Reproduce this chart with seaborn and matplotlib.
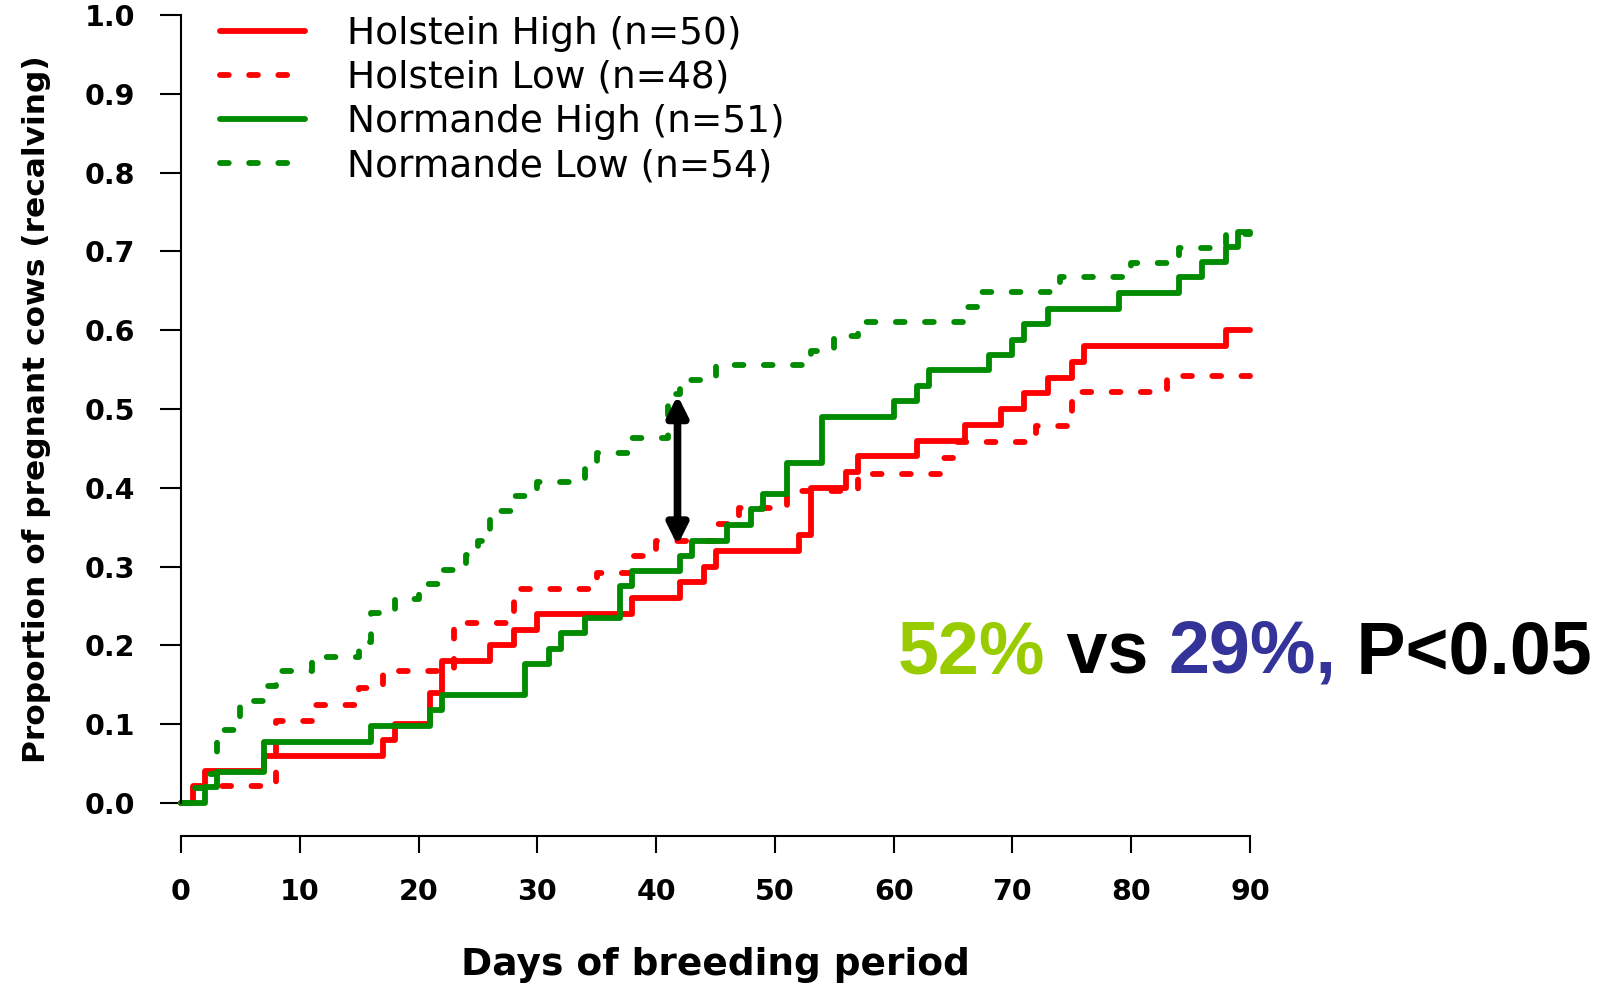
import numpy as np
import pandas as pd
import seaborn as sns
import matplotlib.pyplot as plt
from matplotlib.lines import Line2D

# Kaplan-Meier style step curves: (day, proportion pregnant)
hol_high_days = [0, 1, 2, 7, 17, 18, 21, 22, 26, 28, 30, 38, 42, 44, 45, 52, 53, 56, 57, 62,
                 66, 69, 71, 73, 75, 76, 88, 90]
hol_high_prop = [0, .02, .04, .06, .08, .10, .14, .18, .20, .22, .24, .26, .28, .30, .32, .34,
                 .40, .42, .44, .46, .48, .50, .52, .54, .56, .58, .60, .60]

hol_low_days = [0, 1, 8, 11, 15, 17, 23, 28, 35, 38, 40, 45, 47, 51, 57, 64, 65, 72, 75, 83, 90]
hol_low_prop = [0, .021, .104, .125, .146, .167, .229, .271, .292, .313, .333, .354, .375, .396,
                .417, .438, .458, .479, .521, .542, .542]

nor_high_days = [0, 2, 3, 7, 16, 21, 22, 29, 31, 32, 34, 37, 38, 42, 43, 46, 48, 49, 51, 54,
                 60, 62, 63, 68, 70, 71, 73, 79, 84, 86, 88, 89, 90]
nor_high_prop = [0, .020, .039, .078, .098, .118, .137, .176, .196, .216, .235, .275, .294, .314,
                 .333, .353, .373, .392, .431, .490, .510, .529, .549, .569, .588, .608, .627,
                 .647, .667, .686, .706, .725, .725]

nor_low_days = [0, 1, 2, 3, 5, 7, 8, 11, 15, 16, 18, 20, 22, 24, 25, 26, 28, 30, 34, 35,
                38, 41, 42, 45, 53, 55, 57, 66, 67, 74, 80, 84, 88, 90]
nor_low_prop = [0, .019, .037, .093, .130, .148, .167, .185, .204, .241, .259, .278, .296, .315,
                .333, .370, .389, .407, .426, .444, .463, .519, .537, .556, .574, .593, .611,
                .630, .648, .667, .685, .704, .722, .722]

groups = ["Holstein High (n=50)", "Holstein Low (n=48)",
          "Normande High (n=51)", "Normande Low (n=54)"]
x_ticks = list(range(0, 91, 10))
y_ticks = [0.0, 0.1, 0.2, 0.3, 0.4, 0.5, 0.6, 0.7, 0.8, 0.9, 1.0]

# arrow marking the gap at ~day 42
arrow_day = 41.8
arrow_low, arrow_high = 0.327, 0.5175

colors = {groups[0]: "#ff0000", groups[1]: "#ff0000",
          groups[2]: "#008b00", groups[3]: "#008b00"}
dash_map = {groups[0]: "", groups[1]: (1.5, 3.5),
            groups[2]: "", groups[3]: (1.5, 3.5)}

frames = []
for name, d, p in zip(groups,
                      [hol_high_days, hol_low_days, nor_high_days, nor_low_days],
                      [hol_high_prop, hol_low_prop, nor_high_prop, nor_low_prop]):
    frames.append(pd.DataFrame({"day": d, "prop": p, "group": name}))
df = pd.concat(frames, ignore_index=True)

sns.set_style("ticks")
plt.rcParams["font.family"] = ["DejaVu Sans"]
plt.rcParams["text.color"] = "black"
plt.rcParams["axes.labelcolor"] = "black"

fig = plt.figure(figsize=(16.05, 9.83), dpi=100)
ax = fig.add_axes([0.1128, 0.1831, 0.6660, 0.8016])

sns.lineplot(data=df, x="day", y="prop", hue="group", style="group",
             palette=colors, dashes=dash_map, estimator=None, sort=False,
             drawstyle="steps-post", linewidth=4.2, dash_capstyle="round",
             legend=False, ax=ax)
for ln in ax.get_lines():
    ln.set_clip_on(False)

ax.set_xlim(0, 90)
ax.set_ylim(0, 1)
ax.set_xticks(x_ticks)
ax.set_xticklabels([str(t) for t in x_ticks])
ax.set_yticks(y_ticks)
ax.set_yticklabels([f"{t:.1f}" for t in y_ticks])

for side in ["top", "right"]:
    ax.spines[side].set_visible(False)
ax.spines["bottom"].set_position(("outward", 24))
ax.spines["bottom"].set_bounds(0, 90)
ax.spines["left"].set_bounds(0, 1)
for side in ["bottom", "left"]:
    ax.spines[side].set_linewidth(1.5)
    ax.spines[side].set_color("black")

ax.tick_params(axis="x", length=12, width=1.5, pad=18, labelsize=20.5, colors="black")
ax.tick_params(axis="y", length=15, width=1.5, pad=18, labelsize=20.5, colors="black")
for lbl in ax.get_xticklabels() + ax.get_yticklabels():
    lbl.set_fontweight("bold")

ax.set_xlabel("Days of breeding period", fontsize=27, fontweight="bold", color="black")
ax.xaxis.set_label_coords(0.5, -0.183)
ax.set_ylabel("Proportion of pregnant cows (recalving)", fontsize=22.5, fontweight="bold",
              color="black")
ax.yaxis.set_label_coords(-0.122, 0.5)

handles = [Line2D([], [], color=colors[g], lw=4.2, dash_capstyle="round",
                  linestyle="-" if dash_map[g] == "" else (0, dash_map[g]))
           for g in groups]
fig.legend(handles, groups, loc="upper left", bbox_to_anchor=(0.137, 0.984),
           frameon=False, fontsize=27, handlelength=2.27, handletextpad=1.12,
           borderpad=0, borderaxespad=0, labelspacing=0.22, labelcolor="black")

ax.annotate("", xy=(arrow_day, arrow_high), xytext=(arrow_day, arrow_low),
            arrowprops=dict(arrowstyle="<|-|>,head_length=12,head_width=6",
                            mutation_scale=1, lw=5.5, color="black",
                            shrinkA=0, shrinkB=0))

# multi-coloured result text
parts = [("52%", "#99cc00"), (" vs ", "black"), ("29%,", "#333399"), (" P<0.05", "black")]
txt_kw = dict(fontsize=53, fontweight="bold", family=["Liberation Sans", "DejaVu Sans"])
prev = fig.text(898 / 1605, 1 - 673 / 983, parts[0][0], color=parts[0][1],
                ha="left", va="baseline", **txt_kw)
for s, c in parts[1:]:
    prev = ax.annotate(s, xy=(1, 0), xycoords=prev, ha="left", va="bottom",
                       color=c, **txt_kw)

fig.savefig("out.png", dpi=100, facecolor="white")
